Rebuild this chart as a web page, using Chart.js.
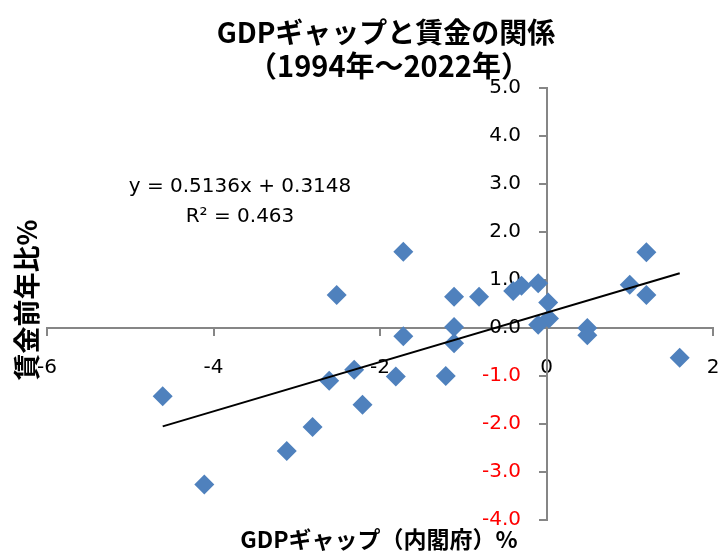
<!DOCTYPE html>
<html lang="ja">
<head>
<meta charset="utf-8">
<title>GDPギャップと賃金の関係</title>
<script src="https://cdn.jsdelivr.net/npm/chart.js@4/dist/chart.umd.min.js"></script>
<style>
  body { margin: 0; background: #fff; }
  #wrap { width: 720px; height: 551px; }
</style>
</head>
<body>
<div id="wrap"><canvas id="myChart" width="720" height="551"></canvas></div>
<script>
// GDP gap (x, %) and wage growth (y, % yoy), 1994-2022
const gdpGap = [1.20, 1.00, 1.20, 0.49, 0.49, 1.60, -1.72, -1.11, -0.81, -0.40,
                -0.30, -0.10, 0.02, 0.03, -0.10, -1.11, -1.11, -1.72, -1.81, -1.21,
                -4.61, -4.11, -3.12, -2.81, -2.61, -2.31, -2.21, -2.52];
const wageGrowth = [1.58, 0.90, 0.69, 0.00, -0.15, -0.62, 1.59, 0.65, 0.65, 0.77,
                    0.88, 0.93, 0.53, 0.20, 0.07, 0.02, -0.32, -0.17, -1.01, -1.00,
                    -1.42, -3.26, -2.56, -2.06, -1.10, -0.87, -1.60, 0.69];

// linear trend line end points
const trendX = [-4.61, 1.60];
const trendY = [-2.05, 1.14];

const titleLines = ['GDPギャップと賃金の関係', '（1994年～2022年）'];
const equationLines = ['y = 0.5136x + 0.3148', 'R² = 0.463'];
const xTitle = 'GDPギャップ（内閣府）%';
const yTitle = '賃金前年比%';

const axisGray = '#868686';
const markerBlue = '#4f81bd';

const points = gdpGap.map((x, i) => ({ x: x, y: wageGrowth[i] }));
const trendPoints = trendX.map((x, i) => ({ x: x, y: trendY[i] }));

// texts that Excel puts freely on the chart
const textPlugin = {
    id: 'freeTexts',
    afterDraw(chart) {
        const ctx = chart.ctx;
        ctx.save();
        ctx.fillStyle = '#000';
        ctx.textAlign = 'center';
        ctx.textBaseline = 'alphabetic';

        ctx.font = 'bold 28px "Noto Sans CJK JP"';
        ctx.fillText(titleLines[0], 386, 43);
        ctx.font = 'bold 29px "Noto Sans CJK JP"';
        ctx.fillText(titleLines[1], 389, 77);

        ctx.font = '20px "DejaVu Sans"';
        ctx.fillText(equationLines[0], 240, 192);
        ctx.fillText(equationLines[1], 240, 222);

        ctx.font = 'bold 23px "Noto Sans CJK JP"';
        ctx.fillText(xTitle, 379, 548);

        ctx.translate(27, 300);
        ctx.rotate(-Math.PI / 2);
        ctx.textBaseline = 'middle';
        ctx.font = 'bold 27px "Noto Sans CJK JP"';
        ctx.fillText(yTitle, 0, 0);
        ctx.restore();
    }
};

window.onload = () => {
    const chartContext = document.getElementById('myChart').getContext('2d');
    const chartConfig = {
        type: 'scatter',
        data: {
            datasets: [{
                label: 'trend',
                type: 'line',
                data: trendPoints,
                borderColor: '#000',
                borderWidth: 2,
                pointRadius: 0,
                fill: false,
                order: 0
            }, {
                label: '賃金前年比',
                data: points,
                pointStyle: 'rectRot',
                pointRadius: 10,
                pointHoverRadius: 10,
                backgroundColor: markerBlue,
                borderColor: markerBlue,
                borderWidth: 0,
                order: 1
            }]
        },
        options: {
            responsive: false,
            animation: false,
            layout: { autoPadding: false, padding: { left: 47, right: 7, top: 88, bottom: 31 } },
            plugins: {
                legend: { display: false },
                title: { display: false },
                tooltip: { enabled: false }
            },
            scales: {
                x: {
                    type: 'linear',
                    position: { y: 0 },
                    min: -6,
                    max: 2,
                    // axes cross in the middle, so they must not eat layout space
                    afterFit: (scale) => {
                        scale.height = 0;
                        scale.paddingLeft = 0;
                        scale.paddingRight = 0;
                    },
                    border: { color: axisGray, width: 2 },
                    grid: { drawOnChartArea: false, drawTicks: true, tickLength: 7, color: axisGray, lineWidth: 2 },
                    ticks: {
                        stepSize: 2,
                        padding: 21,
                        color: '#000',
                        font: { family: '"DejaVu Sans"', size: 20 }
                    }
                },
                y: {
                    type: 'linear',
                    position: { x: 0 },
                    min: -4,
                    max: 5,
                    afterFit: (scale) => { scale.width = 0; },
                    border: { color: axisGray, width: 2 },
                    grid: { drawOnChartArea: false, drawTicks: true, tickLength: 7, color: axisGray, lineWidth: 2 },
                    ticks: {
                        stepSize: 1,
                        font: { family: '"DejaVu Sans"', size: 20 },
                        color: (c) => c.tick.value < 0 ? '#ff0000' : '#000',
                        // Chart.js ignores padding for a y axis set at x = 0, trailing spaces keep the gap
                        callback: (value) => value.toFixed(1) + '    '
                    }
                }
            }
        },
        plugins: [textPlugin]
    };
    const myChart = new Chart(chartContext, chartConfig);
};
</script>
</body>
</html>
